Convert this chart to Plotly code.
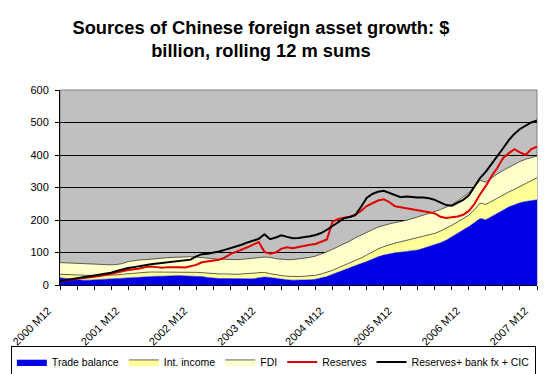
import plotly.graph_objects as go

# months from 2000 M12 to 2007 M12
months = ["2000 M12"] + [f"{y} M{m}" for y in range(2001, 2008) for m in range(1, 13)]

trade_balance = [22, 20, 18, 16, 15, 15, 16, 17, 18, 19, 20, 22, 24, 25, 26, 26, 27, 27, 27, 28,
                 28, 29, 28, 28, 27, 26, 23, 21, 20, 20, 20, 19, 19, 18, 19, 22, 25, 23, 20, 18,
                 16, 15, 15, 15, 16, 18, 21, 26, 33, 40, 47, 54, 60, 66, 72, 80, 87, 92, 96, 99,
                 101, 103, 105, 108, 113, 118, 124, 130, 138, 148, 160, 170, 180, 192, 205, 201, 210, 220, 230, 240,
                 247, 253, 257, 260, 262]
int_income = [11, 12, 13, 14, 14, 14, 13, 13, 12, 11, 11, 11, 11, 12, 12, 13, 13, 13, 14, 13,
              13, 12, 12, 12, 12, 12, 13, 14, 14, 14, 13, 14, 15, 17, 17, 15, 14, 12, 11, 11,
              11, 11, 11, 12, 12, 12, 13, 13, 12, 13, 13, 13, 15, 17, 20, 22, 24, 26, 28, 30,
              32, 34, 36, 38, 37, 37, 35, 36, 36, 36, 34, 34, 35, 40, 47, 47, 48, 48, 46, 46,
              47, 49, 55, 61, 68]
fdi = [36, 36, 37, 37, 37, 36, 35, 33, 32, 32, 32, 33, 37, 38, 39, 39, 40, 42, 42, 43,
       44, 45, 46, 47, 47, 46, 46, 45, 45, 45, 45, 45, 45, 45, 46, 47, 47, 50, 50, 50,
       51, 52, 54, 55, 57, 59, 61, 63, 65, 65, 66, 68, 70, 71, 70, 68, 67, 66, 64, 63,
       62, 62, 63, 63, 64, 65, 67, 66, 66, 63, 64, 66, 69, 70, 70, 68, 72, 74, 76, 76,
       78, 78, 75, 72, 67]
reserves = [12, 14, 17, 19, 21, 23, 25, 28, 31, 34, 38, 42, 46, 48, 51, 55, 57, 55, 53, 55,
            56, 55, 54, 57, 62, 70, 73, 74, 78, 84, 95, 102, 108, 116, 124, 132, 102, 96, 100, 112,
            116, 113, 117, 121, 124, 126, 132, 140, 195, 203, 207, 210, 216, 228, 243, 252, 260, 264, 255, 242,
            239, 237, 235, 231, 228, 224, 220, 210, 206, 208, 211, 216, 228, 250, 280, 305, 335, 360, 390, 405,
            418, 408, 400, 418, 426]
reserves_bank_cic = [12, 15, 18, 21, 23, 25, 28, 31, 34, 38, 43, 48, 52, 55, 57, 61, 64, 66, 67, 70,
                     72, 74, 75, 78, 88, 95, 96, 99, 103, 108, 113, 118, 124, 131, 137, 142, 156, 141, 146, 153,
                     148, 144, 145, 147, 150, 154, 160, 170, 182, 195, 205, 209, 215, 240, 268, 280, 287, 290, 283, 275,
                     270, 272, 270, 269, 269, 267, 262, 254, 246, 244, 252, 262, 276, 305, 330, 349, 372, 395, 420, 445,
                     465, 480, 490, 500, 506]

tick_vals = months[::3]
tick_text = [m if m.endswith("M12") else "" for m in tick_vals]

fig = go.Figure()
fig.add_trace(go.Scatter(x=months, y=trade_balance, name="Trade balance", stackgroup="a",
                         mode="lines", line=dict(color="#0000E6", width=0.5), fillcolor="#0000E6"))
fig.add_trace(go.Scatter(x=months, y=int_income, name="Int. income", stackgroup="a",
                         mode="lines", line=dict(color="#222222", width=0.7), fillcolor="#FFFF99"))
fig.add_trace(go.Scatter(x=months, y=fdi, name="FDI", stackgroup="a",
                         mode="lines", line=dict(color="#222222", width=0.7), fillcolor="#FFFFCC"))
fig.add_trace(go.Scatter(x=months, y=reserves, name="Reserves", mode="lines",
                         line=dict(color="#E00000", width=2)))
fig.add_trace(go.Scatter(x=months, y=reserves_bank_cic, name="Reserves+ bank fx + CIC", mode="lines",
                         line=dict(color="#000000", width=2)))

fig.update_layout(
    width=547, height=374,
    margin=dict(l=60, r=10, t=90, b=89, autoexpand=False),
    paper_bgcolor="white", plot_bgcolor="#C0C0C0",
    font=dict(family="Arial, Liberation Sans, sans-serif", size=11, color="black"),
    title=dict(text="<b>Sources of Chinese foreign asset growth: $<br>billion, rolling 12 m sums</b>",
               x=0.477, xanchor="center", y=0.91, yanchor="top",
               font=dict(family="Arial, Liberation Sans, sans-serif", size=18.3, color="black")),
    showlegend=True,
    legend=dict(orientation="h", x=-0.103, xanchor="left", y=-0.315, yanchor="top",
                bordercolor="black", borderwidth=1, bgcolor="white", traceorder="normal",
                font=dict(size=10.5), itemwidth=30, tracegroupgap=0),
)
fig.update_xaxes(type="category", range=[0, 84], tickmode="array", tickvals=tick_vals, ticktext=tick_text,
                 tickangle=-45, ticks="outside", ticklen=4, tickcolor="black", showgrid=False,
                 showline=True, linecolor="black", linewidth=1, tickfont=dict(size=11),
                 ticklabelstandoff=10, ticklabelshift=-12)
fig.update_yaxes(range=[0, 600], dtick=100, ticks="outside", ticklen=4, tickcolor="black",
                 showgrid=True, gridcolor="black", gridwidth=1, zeroline=False,
                 showline=True, linecolor="black", linewidth=1, tickfont=dict(size=11),
                 ticklabelstandoff=4)
fig.add_shape(type="rect", xref="paper", yref="paper", x0=0, x1=1, y0=0, y1=1,
              line=dict(color="#808080", width=1), layer="below")

fig.write_html("out.html", config={"displayModeBar": False},
               post_script="document.body.style.margin='0';document.body.style.padding='0';")
